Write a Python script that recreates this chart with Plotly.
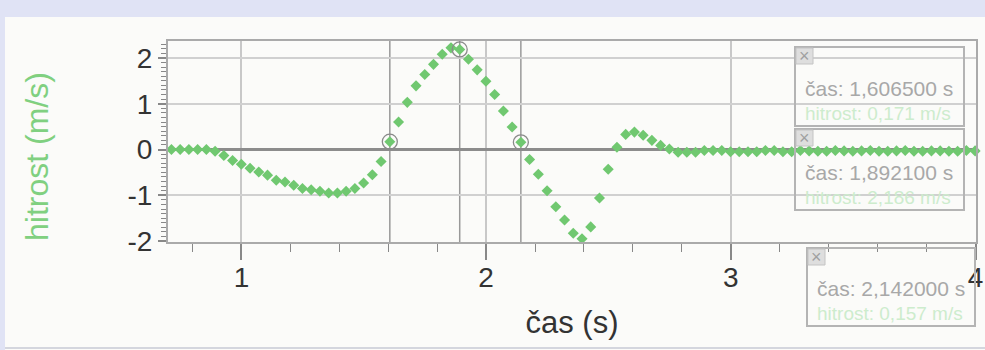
import plotly.graph_objects as go

# ---------------- data ----------------
time_s = [0.7140, 0.7497, 0.7854, 0.8211, 0.8568, 0.8925, 0.9282, 0.9639, 0.9996, 1.0353,
          1.0710, 1.1067, 1.1424, 1.1781, 1.2138, 1.2495, 1.2852, 1.3209, 1.3566, 1.3923,
          1.4280, 1.4637, 1.4994, 1.5351, 1.5708, 1.6065, 1.6422, 1.6779, 1.7136, 1.7493,
          1.7850, 1.8207, 1.8564, 1.8921, 1.9278, 1.9635, 1.9992, 2.0349, 2.0706, 2.1063,
          2.1420, 2.1777, 2.2134, 2.2491, 2.2848, 2.3205, 2.3562, 2.3919, 2.4276, 2.4633,
          2.4990, 2.5347, 2.5704, 2.6061, 2.6418, 2.6775, 2.7132, 2.7489, 2.7846, 2.8203,
          2.8560, 2.8917, 2.9274, 2.9631, 2.9988, 3.0345, 3.0702, 3.1059, 3.1416, 3.1773,
          3.2130, 3.2487, 3.2844, 3.3201, 3.3558, 3.3915, 3.4272, 3.4629, 3.4986, 3.5343,
          3.5700, 3.6057, 3.6414, 3.6771, 3.7128, 3.7485, 3.7842, 3.8199, 3.8556, 3.8913,
          3.9270, 3.9627, 3.9984]

velocity = [0.00, 0.00, 0.00, 0.00, 0.00, -0.04, -0.13, -0.24, -0.32, -0.41,
            -0.49, -0.56, -0.67, -0.71, -0.78, -0.85, -0.88, -0.91, -0.95, -0.95,
            -0.91, -0.85, -0.73, -0.55, -0.26, 0.171, 0.60, 1.03, 1.39, 1.64,
            1.86, 2.08, 2.22, 2.186, 1.97, 1.74, 1.49, 1.20, 0.84, 0.49,
            0.157, -0.22, -0.54, -0.90, -1.25, -1.54, -1.83, -1.95, -1.69, -1.06,
            -0.43, 0.05, 0.33, 0.38, 0.31, 0.20, 0.09, 0.01, -0.06, -0.06,
            -0.06, -0.02, -0.02, -0.02, -0.05, -0.05, -0.05, -0.05, -0.02, -0.02,
            -0.05, -0.05, -0.02, -0.03, -0.04, -0.04, -0.02, -0.03, -0.04, -0.03,
            -0.02, -0.04, -0.04, -0.03, -0.02, -0.04, -0.04, -0.03, -0.03, -0.04,
            -0.04, -0.02, -0.03]

cursor_time = [1.6065, 1.8921, 2.1420]
cursor_velocity = [0.171, 2.186, 0.157]
cursor_time_text = ["1,606500", "1,892100", "2,142000"]
cursor_vel_text = ["0,171", "2,186", "0,157"]

x_tickvals = [1, 2, 3, 4]
x_ticktext = ["1", "2", "3", "4"]
y_tickvals = [-2, -1, 0, 1, 2]
y_ticktext = ["-2", "-1", "0", "1", "2"]

x_title = "čas (s)"
y_title = "hitrost (m/s)"

# ---------------- layout geometry ----------------
W, H = 985, 350
ML, MR, MT, MB = 168, 9, 41, 108
PW, PH = W - ML - MR, H - MT - MB


def px(x):
    return (x - ML) / PW


def py(y):
    return (H - MB - y) / PH


FONT = "Liberation Sans, Arial, sans-serif"
GREEN = "#70c870"

fig = go.Figure()

fig.add_trace(go.Scatter(
    x=time_s, y=velocity, mode="markers",
    marker=dict(symbol="diamond", size=8.5, color=GREEN, line=dict(width=0)),
    hoverinfo="skip", showlegend=False, cliponaxis=False,
))

fig.add_trace(go.Scatter(
    x=cursor_time, y=cursor_velocity, mode="markers",
    marker=dict(symbol="circle-open", size=15, color="#8a8a8a", line=dict(width=1.3)),
    hoverinfo="skip", showlegend=False, cliponaxis=False,
))

shapes = []
# page frame
shapes.append(dict(type="rect", xref="paper", yref="paper", layer="below",
                   x0=px(0), x1=px(W), y0=py(0), y1=py(17),
                   fillcolor="#e0e3f5", line=dict(width=0)))
shapes.append(dict(type="rect", xref="paper", yref="paper", layer="below",
                   x0=px(0), x1=px(5), y0=py(0), y1=py(H),
                   fillcolor="#e0e3f5", line=dict(width=0)))
shapes.append(dict(type="line", xref="paper", yref="paper", layer="below",
                   x0=px(5), x1=px(W), y0=py(348), y1=py(348),
                   line=dict(color="#d4d6de", width=2)))

# cursor lines
for t in cursor_time:
    shapes.append(dict(type="line", xref="x", yref="paper", layer="below",
                       x0=t, x1=t, y0=0, y1=1,
                       line=dict(color="#999999", width=1.5)))

# cursor boxes (x0, y0, x1, y1 in pixels)
boxes = [(795, 47, 964, 126), (795, 129, 964, 210), (807, 248, 975, 326)]
annotations = []
for i, (bx0, by0, bx1, by1) in enumerate(boxes):
    shapes.append(dict(type="rect", xref="paper", yref="paper", layer="above",
                       x0=px(bx0), x1=px(bx1), y0=py(by1), y1=py(by0),
                       line=dict(color="#b4b4b4", width=2), fillcolor="rgba(0,0,0,0)"))
    # close icon
    shapes.append(dict(type="rect", xref="paper", yref="paper", layer="above",
                       x0=px(bx0 + 1), x1=px(bx0 + 18), y0=py(by0 + 17), y1=py(by0 + 1),
                       line=dict(color="#c4c4c4", width=1), fillcolor="#dedede"))
    annotations.append(dict(xref="paper", yref="paper", x=px(bx0 + 9.5), y=py(by0 + 9),
                            text="×", showarrow=False, xanchor="center", yanchor="middle",
                            font=dict(family=FONT, size=18, color="#a0a0a0")))
    annotations.append(dict(xref="paper", yref="paper", x=px(bx0 + 8), y=py(by1 - 38),
                            text=f"čas: {cursor_time_text[i]} s", showarrow=False,
                            xanchor="left", yanchor="middle",
                            font=dict(family=FONT, size=21, color="#a8a8a8")))
    annotations.append(dict(xref="paper", yref="paper", x=px(bx0 + 8), y=py(by1 - 13),
                            text=f"hitrost: {cursor_vel_text[i]} m/s", showarrow=False,
                            xanchor="left", yanchor="middle",
                            font=dict(family=FONT, size=19, color="#cdeccd")))

# y-axis title, placed as in the reference (not centred on the plot)
annotations.append(dict(xref="paper", yref="paper", x=px(37), y=py(157),
                        text=y_title, showarrow=False, textangle=-90,
                        xanchor="center", yanchor="middle",
                        font=dict(family=FONT, size=32, color="#80d080")))

fig.update_layout(
    width=W, height=H,
    margin=dict(l=ML, r=MR, t=MT, b=MB, autoexpand=False),
    paper_bgcolor="#fbfbf9", plot_bgcolor="#fbfbf9",
    shapes=shapes, annotations=annotations,
    font=dict(family=FONT, color="#333333"),
)

fig.update_xaxes(
    range=[0.7, 4.002], tickmode="array", tickvals=x_tickvals, ticktext=x_ticktext,
    ticks="outside", ticklen=16, tickwidth=1.5, tickcolor="#888888",
    tickfont=dict(family=FONT, size=28, color="#333333"), ticklabelstandoff=-7,
    minor=dict(tickmode="linear", tick0=0, dtick=0.2, ticks="outside", ticklen=8,
               tickwidth=1.2, tickcolor="#888888", showgrid=False),
    showgrid=True, gridcolor="#c8c8c8", gridwidth=1.5,
    showline=True, linecolor="#aaaaaa", linewidth=2, mirror=True,
    zeroline=False,
    title=dict(text=x_title, font=dict(family=FONT, size=31, color="#333333"), standoff=20),
)

fig.update_yaxes(
    range=[-2.02, 2.37], tickmode="array", tickvals=y_tickvals, ticktext=y_ticktext,
    ticks="outside", ticklen=8, tickwidth=1.5, tickcolor="#888888",
    tickfont=dict(family=FONT, size=28, color="#333333"),
    minor=dict(tickmode="linear", tick0=0, dtick=0.1, ticks="outside", ticklen=5,
               tickwidth=1.2, tickcolor="#888888", showgrid=False),
    showgrid=True, gridcolor="#d0d0d0", gridwidth=1.5,
    showline=True, linecolor="#aaaaaa", linewidth=2, mirror=True,
    zeroline=True, zerolinecolor="#8c8c8c", zerolinewidth=2.5,
)

fig.write_html("out.html")
